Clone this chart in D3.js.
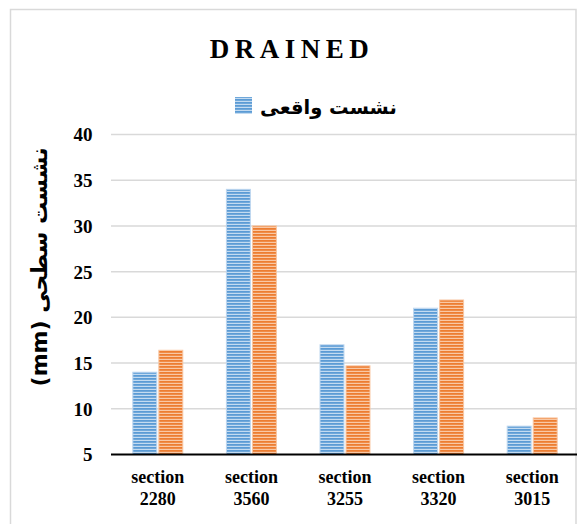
<!DOCTYPE html>
<html>
<head>
<meta charset="utf-8">
<script src="https://cdn.jsdelivr.net/npm/d3@7"></script>
<style>
  html, body { margin: 0; padding: 0; background: #fff; }
  svg { display: block; }
</style>
</head>
<body>
<svg id="chart" width="577" height="524"></svg>
<script>
// Settlement per section (mm)
const categories = ["section 2280", "section 3560", "section 3255", "section 3320", "section 3015"];
const measured  = [14, 34, 17, 21, 8.1];       // نشست واقعی
const predicted = [16.4, 30, 14.7, 21.9, 9.0];  // second series (not in legend)
const yTicks = [5, 10, 15, 20, 25, 30, 35, 40];
const seriesNames = ["نشست واقعی", ""];
const titleText = "DRAINED";
const yTitle = "(mm) نشست سطحی";

const arabicFont = "'DejaVu Sans', sans-serif";
const serifFont = "'Liberation Serif', 'Times New Roman', serif";

const svg = d3.select("#chart");
const W = 577, H = 524;
const plot = { left: 111, right: 579, top: 134.5, bottom: 454.5 };

// Outer chart frame
svg.append("rect")
  .attr("x", 10.5).attr("y", 9.5)
  .attr("width", 565.5).attr("height", 540)
  .attr("fill", "#fff").attr("stroke", "#d9d9d9").attr("stroke-width", 1.5);

// Striped fills
const defs = svg.append("defs");
function stripe(id, dark, light) {
  const p = defs.append("pattern")
    .attr("id", id).attr("patternUnits", "userSpaceOnUse")
    .attr("width", 8).attr("height", 3);
  p.append("rect").attr("width", 8).attr("height", 3).attr("fill", dark);
  p.append("rect").attr("y", 1.8).attr("width", 8).attr("height", 1.2).attr("fill", light);
}
stripe("stripeBlue", "#5b9bd5", "#c3dbf1");
stripe("stripeOrange", "#ed7d31", "#f9c8a5");

const y = d3.scaleLinear().domain([5, 40]).range([plot.bottom, plot.top]);
const x0 = d3.scaleBand().domain(categories).range([plot.left, plot.right])
  .paddingInner(0.466).paddingOuter(0.233);
const x1 = d3.scaleBand().domain([0, 1]).range([0, x0.bandwidth()]).paddingInner(0.08);

// Gridlines
svg.append("g")
  .selectAll("line").data(yTicks.filter(t => t !== 5)).join("line")
  .attr("x1", plot.left).attr("x2", W)
  .attr("y1", d => y(d)).attr("y2", d => y(d))
  .attr("stroke", "#d9d9d9").attr("stroke-width", 1.5);

// Y tick labels
const yAxis = d3.axisLeft(y).tickValues(yTicks).tickSize(0).tickPadding(0);
const ya = svg.append("g").attr("transform", `translate(92.5,0)`).call(yAxis);
ya.select(".domain").remove();
ya.selectAll("text")
  .attr("font-family", serifFont)
  .attr("font-weight", "bold").attr("font-size", 19).attr("fill", "#000")
  .attr("dy", "0.34em");

// Bars
const series = [measured, predicted];
const fills = ["url(#stripeBlue)", "url(#stripeOrange)"];
const edges = ["#bcd6ef", "#f8c6a2"];
series.forEach((vals, si) => {
  svg.append("g").selectAll("rect").data(vals).join("rect")
    .attr("x", (d, i) => x0(categories[i]) + x1(si))
    .attr("y", d => y(d))
    .attr("width", x1.bandwidth())
    .attr("height", d => y(5) - y(d))
    .attr("fill", fills[si])
    .attr("stroke", edges[si]).attr("stroke-width", 1);
});

// Category axis
const xAxis = d3.axisBottom(x0).tickSize(0).tickPadding(0);
const xa = svg.append("g").attr("transform", `translate(0,${plot.bottom})`).call(xAxis);
xa.select(".domain").remove();
svg.append("line")
  .attr("x1", plot.left).attr("x2", W)
  .attr("y1", plot.bottom).attr("y2", plot.bottom)
  .attr("stroke", "#000").attr("stroke-width", 2);
xa.selectAll("text").each(function(d) {
  const t = d3.select(this).text("");
  const parts = d.split(" ");
  t.attr("font-family", serifFont)
   .attr("font-weight", "bold").attr("font-size", 18).attr("fill", "#000")
   .attr("y", 0).attr("dy", null);
  t.append("tspan").attr("x", 0).attr("y", 28).text(parts[0]);
  t.append("tspan").attr("x", 0).attr("y", 50).text(parts[1]);
});

// Title
svg.append("text")
  .attr("x", 292).attr("y", 57.5)
  .attr("text-anchor", "middle")
  .attr("font-family", serifFont)
  .attr("font-weight", "bold").attr("font-size", 27)
  .attr("letter-spacing", 5.5)
  .text(titleText);

// Legend
const lg = svg.append("g");
lg.append("rect")
  .attr("x", 235).attr("y", 97).attr("width", 17).attr("height", 17)
  .attr("fill", "url(#stripeBlue)");
lg.append("text")
  .attr("x", 260).attr("y", 114)
  .attr("font-family", arabicFont)
  .attr("font-weight", "bold").attr("font-size", 19.5)
  .text(seriesNames[0]);

// Y axis title
svg.append("text")
  .attr("transform", "translate(47,267) rotate(-90)")
  .attr("text-anchor", "middle")
  .attr("font-family", arabicFont)
  .attr("font-weight", "bold").attr("font-size", 22)
  .text(yTitle);
</script>
</body>
</html>
